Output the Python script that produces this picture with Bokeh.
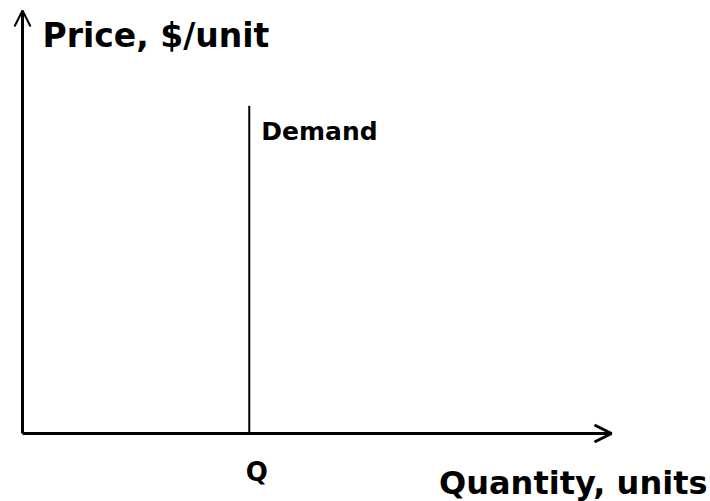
from bokeh.plotting import figure
from bokeh.models import ColumnDataSource, Arrow, OpenHead, Range1d
from bokeh.core.properties import value
from bokeh.embed import file_html
from bokeh.resources import INLINE

# Data (abstract units)
axis_origin = [0.0, 0.0]
quantity_axis_end = 10.0
price_axis_end = 10.0
demand_q = [3.85]
demand_price_top = [7.75]
price_label = ["Price, $/unit"]
quantity_label = ["Quantity, units"]
demand_label = ["Demand"]
q_label = ["Q"]

FONT = value("DejaVu Sans")

p = figure(width=710, height=501, output_backend="svg", toolbar_location=None,
           x_range=Range1d(-0.3735, 11.681), y_range=Range1d(-1.6076, 10.236),
           x_axis_location=None, y_axis_location=None, min_border=0)
p.outline_line_color = None
p.xgrid.visible = False
p.ygrid.visible = False
p.background_fill_color = "white"
p.border_fill_color = "white"

# Axes as arrows
xarrow = ColumnDataSource(dict(x0=[axis_origin[0]], y0=[axis_origin[1]],
                               x1=[quantity_axis_end], y1=[axis_origin[1]]))
yarrow = ColumnDataSource(dict(x0=[axis_origin[0]], y0=[axis_origin[1]],
                               x1=[axis_origin[0]], y1=[price_axis_end]))
p.add_layout(Arrow(end=OpenHead(size=17, line_width=3, line_color="black"),
                   x_start="x0", y_start="y0", x_end="x1", y_end="y1",
                   source=xarrow, line_width=3, line_color="black"))
p.add_layout(Arrow(end=OpenHead(size=16, line_width=2, line_color="black"),
                   x_start="x0", y_start="y0", x_end="x1", y_end="y1",
                   source=yarrow, line_width=3, line_color="black"))

# Demand curve (vertical)
dsrc = ColumnDataSource(dict(x0=demand_q, y0=[axis_origin[1]] * len(demand_q),
                             x1=demand_q, y1=demand_price_top))
p.segment(x0="x0", y0="y0", x1="x1", y1="y1", source=dsrc,
          line_width=2, line_color="black")

# Labels
p.text(x=[axis_origin[0]], y=[price_axis_end], text=price_label,
       x_offset=20, y_offset=25, text_font=FONT, text_font_style="bold",
       text_font_size="33px", text_baseline="alphabetic", text_align="left",
       text_color="black")
p.text(x=demand_q, y=demand_price_top, text=demand_label,
       x_offset=12, y_offset=26, text_font=FONT, text_font_style="bold",
       text_font_size="25px", text_baseline="alphabetic", text_align="left",
       text_color="black")
p.text(x=demand_q, y=[axis_origin[1]], text=q_label,
       x_offset=7.5, y_offset=39, text_font=FONT, text_font_style="bold",
       text_font_size="26px", text_baseline="alphabetic", text_align="center",
       text_color="black")
p.text(x=[quantity_axis_end], y=[axis_origin[1]], text=quantity_label,
       x_offset=96, y_offset=50, text_font=FONT, text_font_style="bold",
       text_font_size="32px", text_baseline="alphabetic", text_align="right",
       text_color="black")

open("out.html", "w").write(file_html(p, INLINE))
